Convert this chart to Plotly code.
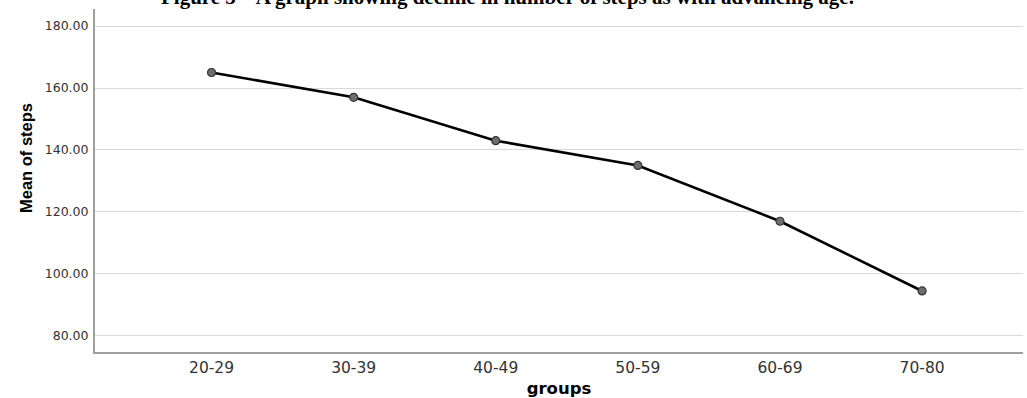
import plotly.graph_objects as go

groups = ["20-29", "30-39", "40-49", "50-59", "60-69", "70-80"]
mean_steps = [165.0, 157.0, 143.0, 135.0, 117.0, 94.5]
y_ticks = [80, 100, 120, 140, 160, 180]
title_text = "Figure 5 \u2013 A graph showing decline in number of steps as with advancing age."
y_title = "Mean of steps"
x_title = "groups"

fig = go.Figure()
fig.add_trace(go.Scatter(
    x=groups, y=mean_steps, mode="lines+markers",
    line=dict(color="#000000", width=2.6),
    marker=dict(size=8, color="#6e6e6e", line=dict(color="#333333", width=1.2)),
    showlegend=False,
))

fig.update_layout(
    width=1027, height=398,
    margin=dict(l=95, r=4, t=9, b=46),
    plot_bgcolor="white", paper_bgcolor="white",
    xaxis=dict(
        type="category", range=[-0.82, 5.71], automargin=False,
        showline=True, linecolor="#a0a0a0", linewidth=2,
        showgrid=False, ticks="", zeroline=False,
        tickfont=dict(family="DejaVu Sans", size=15.5, color="#333333"),
        title=dict(text="<b>" + x_title + "</b>", standoff=13,
                   font=dict(family="DejaVu Sans", size=16.5, color="#000000")),
    ),
    yaxis=dict(
        range=[74.8, 185.5], tickvals=y_ticks, tickformat=".2f", automargin=False,
        showline=True, linecolor="#a0a0a0", linewidth=2,
        showgrid=True, gridcolor="#d9d9d9", gridwidth=1, zeroline=False,
        ticks="", ticklabelstandoff=2,
        tickfont=dict(family="DejaVu Sans", size=12.5, color="#333333"),
    ),
    annotations=[
        dict(
            text="<b>" + title_text + "</b>", xref="paper", yref="paper",
            x=0.452, y=1, xanchor="center", yanchor="bottom", yshift=-2,
            xshift=-7, showarrow=False,
            font=dict(family="Liberation Serif", size=21, color="#000000"),
        ),
        dict(
            text="<b>" + y_title + "</b>", xref="paper", yref="y",
            x=0, y=137.4, xanchor="center", yanchor="middle", xshift=-69,
            textangle=-90, showarrow=False,
            font=dict(family="Liberation Sans Narrow, Liberation Sans", size=16.5, color="#000000"),
        ),
    ],
)

fig.write_html("out.html", config={"displayModeBar": False},
               post_script="document.body.style.margin='0';")
